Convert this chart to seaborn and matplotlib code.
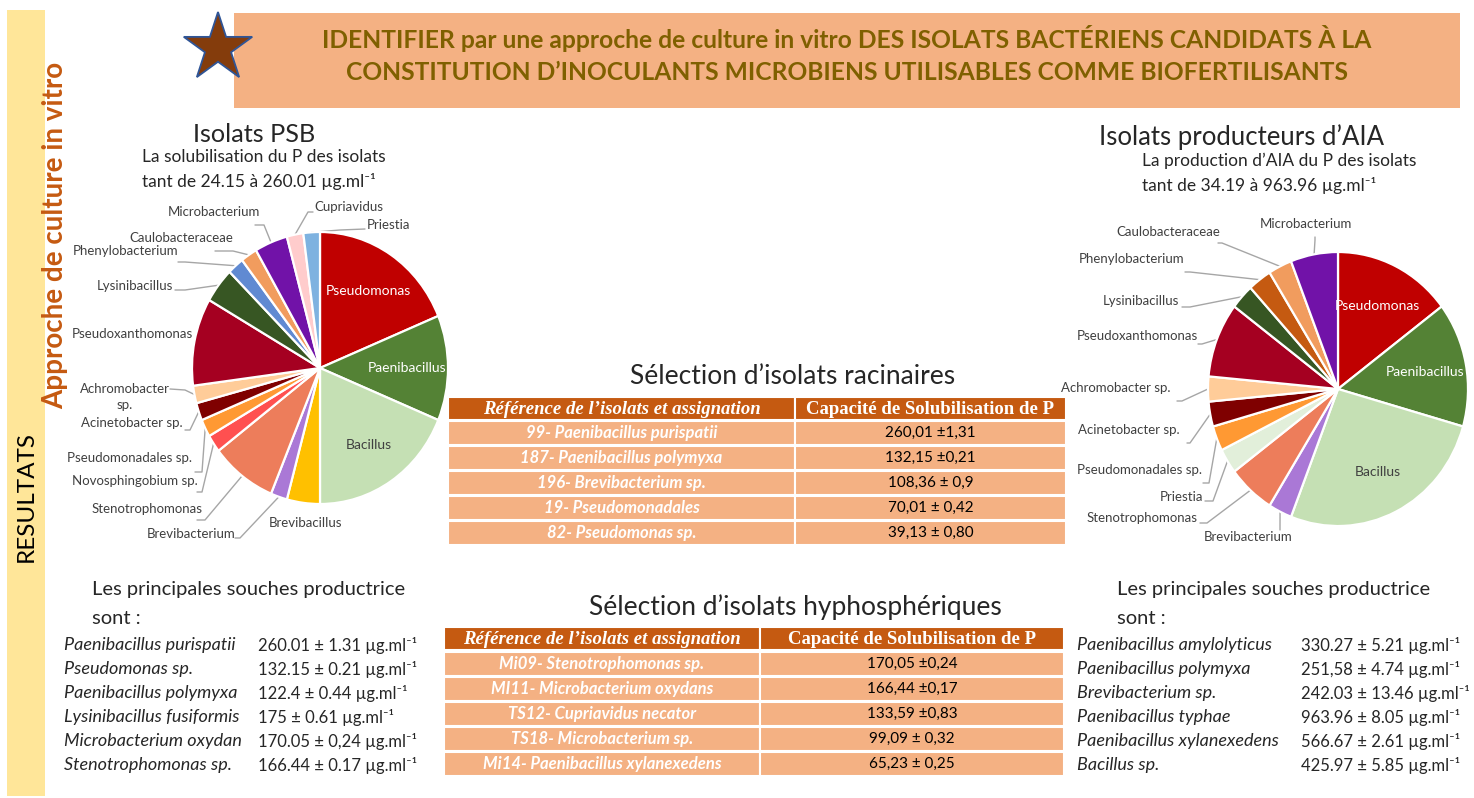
import numpy as np
import seaborn as sns
import matplotlib
matplotlib.use("Agg")
import matplotlib.pyplot as plt
from matplotlib.patches import Rectangle, Polygon

sns.set_theme(style="white")
plt.rcParams["font.family"] = ["Lato", "DejaVu Sans"]

W, H = 1474, 798

# ---------------- data ----------------
psb_genera = ["Pseudomonas", "Paenibacillus", "Bacillus", "Brevibacillus", "Brevibacterium",
              "Stenotrophomonas", "Novosphingobium sp.", "Pseudomonadales sp.", "Acinetobacter sp.",
              "Achromobacter\nsp.", "Pseudoxanthomonas", "Lysinibacillus", "Phenylobacterium",
              "Caulobacteraceae", "Microbacterium", "Cupriavidus", "Priestia"]
psb_counts = [9, 6, 9, 2, 1, 4, 1, 1, 1, 1, 5, 2, 1, 1, 2, 1, 1]
psb_colors = ["#C00000", "#548235", "#C5E0B4", "#FFC000", "#AA78D6", "#ED7D5B", "#FF5050",
              "#FF9933", "#7F0000", "#FFCC99", "#A50021", "#375623", "#608AD2", "#F19C5E",
              "#7112A8", "#FFCCCC", "#7EB2E0"]

aia_genera = ["Pseudomonas", "Paenibacillus", "Bacillus", "Brevibacterium", "Stenotrophomonas",
              "Priestia", "Pseudomonadales sp.", "Acinetobacter sp.", "Achromobacter sp.",
              "Pseudoxanthomonas", "Lysinibacillus", "Phenylobacterium", "Caulobacteraceae",
              "Microbacterium"]
aia_counts = [5, 5, 9, 1, 2, 1, 1, 1, 1, 3, 1, 1, 1, 2]
aia_colors = ["#C00000", "#548235", "#C5E0B4", "#AA78D6", "#ED7D5B", "#E2EFDA", "#FF9933",
              "#7F0000", "#FFCC99", "#A50021", "#375623", "#C55A11", "#F19C5E", "#7112A8"]

table_header = ["Référence de l’isolats et assignation", "Capacité de Solubilisation de P"]
root_refs = ["99- Paenibacillus purispatii", "187- Paenibacillus polymyxa",
             "196- Brevibacterium sp.", "19- Pseudomonadales", "82- Pseudomonas sp."]
root_values = ["260,01 ±1,31", "132,15 ±0,21", "108,36 ± 0,9", "70,01 ± 0,42", "39,13 ± 0,80"]
hypho_refs = ["Mi09- Stenotrophomonas sp.", "MI11- Microbacterium oxydans",
              "TS12- Cupriavidus necator", "TS18- Microbacterium sp.",
              "Mi14- Paenibacillus xylanexedens"]
hypho_values = ["170,05 ±0,24", "166,44 ±0,17", "133,59 ±0,83", "99,09 ± 0,32", "65,23 ± 0,25"]

psb_top_strains = ["Paenibacillus purispatii", "Pseudomonas sp.", "Paenibacillus polymyxa",
                   "Lysinibacillus fusiformis", "Microbacterium oxydan", "Stenotrophomonas sp."]
psb_top_values = ["260.01 ± 1.31", "132.15 ± 0.21", "122.4 ± 0.44", "175 ± 0.61",
                  "170.05 ± 0,24", "166.44 ± 0.17"]
aia_top_strains = ["Paenibacillus amylolyticus", "Paenibacillus polymyxa", "Brevibacterium sp.",
                   "Paenibacillus typhae", "Paenibacillus xylanexedens", "Bacillus sp."]
aia_top_values = ["330.27 ± 5.21", "251,58 ± 4.74", "242.03 ± 13.46", "963.96 ± 8.05",
                  "566.67 ± 2.61", "425.97 ± 5.85"]
unit = " µg.ml⁻¹"

# ---------------- label layout (pixel coordinates) ----------------
psb_labels = {
    "Microbacterium": (214, 212, "center"), "Cupriavidus": (314, 207, "left"),
    "Priestia": (367, 225, "left"), "Caulobacteraceae": (233, 238, "right"),
    "Phenylobacterium": (178, 251, "right"), "Lysinibacillus": (173, 286, "right"),
    "Pseudoxanthomonas": (193, 334, "right"), "Achromobacter\nsp.": (125, 397, "center"),
    "Acinetobacter sp.": (183, 423, "right"), "Pseudomonadales sp.": (192, 458, "right"),
    "Novosphingobium sp.": (198, 481, "right"), "Stenotrophomonas": (203, 509, "right"),
    "Brevibacterium": (236, 534, "right"), "Brevibacillus": (269, 523, "left"),
}
psb_leaders = {
    "Microbacterium": ((255, 225), (264, 225)), "Cupriavidus": ((313, 212), (308, 212)),
    "Priestia": ((365, 229), (340, 230)), "Caulobacteraceae": ((215, 251), (233, 251)),
    "Phenylobacterium": ((178, 262), (185, 262)), "Lysinibacillus": ((175, 290), (185, 290)),
    "Achromobacter\nsp.": ((170, 389), (185, 390)), "Acinetobacter sp.": ((185, 430), (190, 430)),
    "Pseudomonadales sp.": ((195, 472), (202, 472)),
    "Novosphingobium sp.": ((197, 492), (202, 492)),
    "Stenotrophomonas": ((197, 520), (205, 520)), "Brevibacterium": ((235, 538), (240, 538)),
}
aia_labels = {
    "Microbacterium": (1306, 224, "center"), "Caulobacteraceae": (1220, 232, "right"),
    "Phenylobacterium": (1184, 259, "right"), "Lysinibacillus": (1179, 301, "right"),
    "Pseudoxanthomonas": (1198, 336, "right"), "Achromobacter sp.": (1171, 388, "right"),
    "Acinetobacter sp.": (1180, 430, "right"), "Pseudomonadales sp.": (1202, 470, "right"),
    "Priestia": (1203, 497, "right"), "Stenotrophomonas": (1198, 518, "right"),
    "Brevibacterium": (1293, 537, "right"),
}
aia_leaders = {
    "Microbacterium": ((1315, 237), (1315, 240)), "Caulobacteraceae": ((1218, 243), (1222, 243)),
    "Phenylobacterium": ((1185, 272), (1190, 272)), "Lysinibacillus": ((1182, 307), (1190, 307)),
    "Pseudoxanthomonas": ((1198, 344), (1202, 344)),
    "Achromobacter sp.": ((1177, 401), (1182, 401)),
    "Acinetobacter sp.": ((1187, 443), (1190, 443)),
    "Pseudomonadales sp.": ((1203, 483), (1209, 483)), "Priestia": ((1205, 501), (1213, 501)),
    "Stenotrophomonas": ((1200, 523), (1207, 523)), "Brevibacterium": ((1280, 530), (1280, 527)),
}
inner_colors = {"Pseudomonas": "white", "Paenibacillus": "white", "Bacillus": "#404040"}

fig = plt.figure(figsize=(W / 100, H / 100), dpi=100)
fig.patch.set_facecolor("white")
base = fig.add_axes([0, 0, 1, 1])
base.set_xlim(0, W)
base.set_ylim(H, 0)
base.axis("off")

# side band and vertical titles
base.add_patch(Rectangle((7, 10), 38, 786, facecolor="#FFE699", edgecolor="none"))
base.text(26, 497, "RESULTATS", rotation=90, ha="center", va="center", fontsize=17.5,
          color="black")
base.text(55, 235, "Approche de culture in vitro", rotation=90, ha="center", va="center",
          fontsize=20, fontweight="bold", color="#C55A11")

# header banner
base.add_patch(Rectangle((234, 13), 1226, 95, facecolor="#F4B183", edgecolor="none"))
base.text(847, 38, "IDENTIFIER par une approche de culture in vitro DES ISOLATS BACTÉRIENS "
          "CANDIDATS À LA", ha="center", va="center", fontsize=17.7, fontweight="bold",
          color="#7F6000")
base.text(847, 73, "CONSTITUTION D’INOCULANTS MICROBIENS UTILISABLES COMME BIOFERTILISANTS",
          ha="center", va="center", fontsize=17.7, fontweight="bold", color="#7F6000")

# star
ang = np.deg2rad(90 + np.arange(10) * 36)
rad = np.where(np.arange(10) % 2 == 0, 36, 36 * 0.382)
star = np.column_stack([218 + rad * np.cos(ang), 48 - rad * np.sin(ang)])
base.add_patch(Polygon(star, closed=True, facecolor="#843C0C", edgecolor="#2F5597", lw=1.3,
                       zorder=5))

# section titles
base.text(254, 135, "Isolats PSB", ha="center", va="center", fontsize=18.2)
base.text(142, 157, "La solubilisation du P des isolats", ha="left", va="center", fontsize=12.5)
base.text(142, 181, "tant de 24.15 à 260.01" + unit, ha="left", va="center", fontsize=12.5)
base.text(1099, 137, "Isolats producteurs d’AIA", ha="left", va="center", fontsize=18.5)
base.text(1142, 161, "La production d’AIA du P des isolats", ha="left", va="center",
          fontsize=12.5)
base.text(1142, 185, "tant de 34.19 à 963.96" + unit, ha="left", va="center", fontsize=12.5)


def draw_pie(cx, cy, rx, ry, names, counts, colors, labels, leaders):
    ax = fig.add_axes([(cx - rx) / W, 1 - (cy + ry) / H, 2 * rx / W, 2 * ry / H])
    wedges, _ = ax.pie(counts, colors=colors, startangle=90, counterclock=False, radius=1,
                       wedgeprops=dict(edgecolor="white", linewidth=1.6))
    ax.set_xlim(-1, 1)
    ax.set_ylim(-1, 1)
    ax.set_aspect("auto")
    ax.axis("off")
    for w, name in zip(wedges, names):
        w.set_clip_on(False)
        mid = np.deg2rad((w.theta1 + w.theta2) / 2)
        if name in inner_colors:
            ax.text(0.68 * np.cos(mid), 0.68 * np.sin(mid), name, ha="center", va="center",
                    fontsize=10, color=inner_colors[name])
        elif name in labels:
            x, y, ha = labels[name]
            base.text(x, y, name, ha=ha, va="center", fontsize=9.5, color="#404040",
                      multialignment="center", linespacing=1.4)
            if name in leaders:
                p0, p1 = leaders[name]
                ex, ey = cx + rx * np.cos(mid), cy - ry * np.sin(mid)
                base.plot([p0[0], p1[0], ex], [p0[1], p1[1], ey], color="#A6A6A6", lw=1)


draw_pie(320, 368, 128, 136, psb_genera, psb_counts, psb_colors, psb_labels, psb_leaders)
draw_pie(1338, 389, 130, 137, aia_genera, aia_counts, aia_colors, aia_labels, aia_leaders)


def draw_table(title, title_x, title_y, x0, xs, x1, top, head_h, row_top, pitch, row_h,
               refs, values):
    base.text(title_x, title_y, title, ha="center", va="center", fontsize=19)
    for (a, b), txt, st in zip([(x0, xs), (xs, x1)], table_header, ["italic", "normal"]):
        base.add_patch(Rectangle((a, top), b - a, head_h, facecolor="#C55A11",
                                 edgecolor="white", lw=1.5))
        base.text((a + b) / 2, top + head_h / 2 + 1, txt, ha="center", va="center",
                  fontsize=13.5, fontweight="bold", style=st, color="white",
                  family=["Liberation Serif", "DejaVu Serif"])
    for i, (ref, val) in enumerate(zip(refs, values)):
        y = row_top + i * pitch
        for a, b in [(x0, xs), (xs, x1)]:
            base.add_patch(Rectangle((a, y), b - a, row_h, facecolor="#F4B183",
                                     edgecolor="white", lw=1.5))
        base.text((x0 + xs) / 2, y + row_h / 2, ref, ha="center", va="center", fontsize=12,
                  fontweight="bold", style="italic", color="white")
        base.text((xs + x1) / 2, y + row_h / 2, val, ha="center", va="center", fontsize=11,
                  color="black")


draw_table("Sélection d’isolats racinaires", 793, 376, 448, 795, 1066, 397, 23, 421, 25, 24,
           root_refs, root_values)
draw_table("Sélection d’isolats hyphosphériques", 795, 607, 444, 760, 1064, 627, 23, 652, 25,
           24, hypho_refs, hypho_values)


def draw_list(x_head, x_name, x_val, strains, values):
    base.text(x_head, 590, "Les principales souches productrice", ha="left", va="center",
              fontsize=14.5)
    base.text(x_head, 618, "sont :", ha="left", va="center", fontsize=14.5)
    for i, (s, v) in enumerate(zip(strains, values)):
        y = 645 + i * 24
        base.text(x_name, y, s, ha="left", va="center", fontsize=13, style="italic")
        base.text(x_val, y, v + unit, ha="left", va="center", fontsize=12)


draw_list(92, 64, 258, psb_top_strains, psb_top_values)
draw_list(1117, 1077, 1301, aia_top_strains, aia_top_values)

fig.savefig("out.png", dpi=100, facecolor="white")
